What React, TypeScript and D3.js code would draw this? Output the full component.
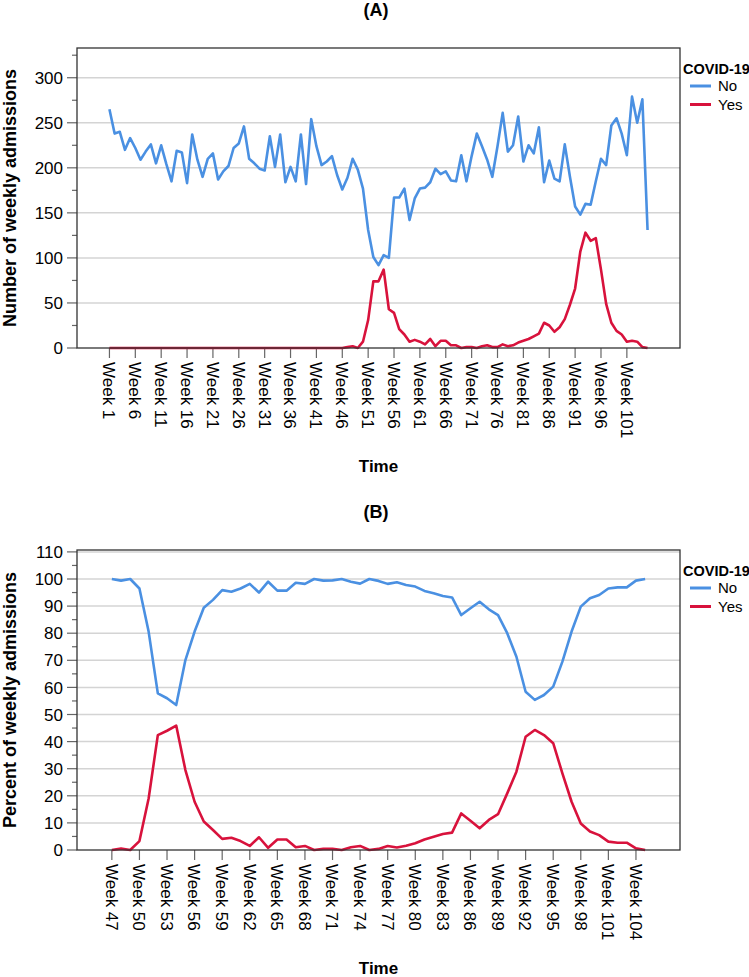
import React, { useEffect, useRef } from 'react';
import * as d3 from 'd3';

// Panel A: weekly admission counts, weeks 1-105
const weeksA = d3.range(1, 106);
const noA = [
  265, 238, 240, 220, 233, 222, 209, 218, 226, 205,
  225, 204, 185, 219, 217, 183, 237, 209, 190, 210,
  216, 187, 196, 202, 222, 227, 246, 210, 205, 199,
  197, 235, 201, 237, 184, 201, 185, 237, 182, 254,
  224, 203, 207, 213, 192, 176, 189, 210, 198, 177,
  131, 101, 92, 103, 100, 167, 167, 177, 142, 166,
  177, 178, 184, 199, 193, 196, 186, 185, 214, 185,
  213, 238, 224, 209, 190, 224, 261, 218, 225, 257,
  207, 225, 216, 245, 184, 208, 188, 185, 226, 190,
  157, 148, 160, 159, 185, 210, 203, 247, 255, 238,
  214, 279, 250, 276, 131,
];
const yesA = [
  0, 0, 0, 0, 0, 0, 0, 0, 0, 0,
  0, 0, 0, 0, 0, 0, 0, 0, 0, 0,
  0, 0, 0, 0, 0, 0, 0, 0, 0, 0,
  0, 0, 0, 0, 0, 0, 0, 0, 0, 0,
  0, 0, 0, 0, 0, 0, 1, 2, 0, 7,
  31, 74, 74, 87, 43, 39, 21, 15, 7, 9,
  7, 4, 10, 2, 8, 8, 3, 3, 0, 1,
  1, 0, 2, 3, 1, 1, 4, 2, 3, 6,
  8, 10, 13, 16, 28, 25, 18, 23, 32, 48,
  66, 107, 128, 119, 122, 87, 49, 28, 19, 15,
  7, 8, 7, 1, 0,
];

// Panel B: percent of weekly admissions, weeks 47-105
const weeksB = d3.range(47, 106);
const noB = [
  100, 99.4, 100, 96.5, 80.6, 57.8, 56, 53.5, 70.1, 80.6,
  89.4, 92.3, 95.9, 95.3, 96.5, 98.2, 95, 99, 95.7, 95.7,
  98.6, 98.2, 100, 99.4, 99.5, 100, 99, 98.3, 100, 99.3,
  98.2, 98.8, 97.8, 97.2, 95.6, 94.7, 93.7, 93.2, 86.7, 89.2,
  91.6, 88.8, 86.7, 80, 71.3, 58.4, 55.4, 57.2, 60.3, 69.5,
  80.6, 89.8, 92.9, 94.1, 96.5, 96.9, 96.9, 99.4, 100,
];
const yesB = [
  0, 0.5, 0, 3.3, 19, 42.4, 44, 45.9, 29.5, 17.8,
  10.5, 7.4, 4.1, 4.5, 3.3, 1.5, 4.7, 0.8, 3.9, 3.9,
  1, 1.5, 0, 0.4, 0.4, 0, 1, 1.5, 0, 0.4,
  1.5, 0.9, 1.6, 2.5, 3.9, 4.9, 5.9, 6.4, 13.5, 10.8,
  8, 11.1, 13.2, 20.9, 28.9, 41.8, 44.3, 42.4, 39.4, 28.3,
  17.8, 9.8, 6.8, 5.5, 3.1, 2.7, 2.7, 0.6, 0,
];

const legendTitle = 'COVID-19';
const seriesNames = ['No', 'Yes'];
const seriesColors = ['#4a90e2', '#d8123c'];

const FONT = '"Liberation Sans", Arial, Helvetica, sans-serif';

interface PanelConfig {
  title: string;
  top: number;
  weeks: number[];
  no: number[];
  yes: number[];
  yMax: number;
  yMajor: number;
  yMinor: number;
  xEvery: number;
  xPad: number;
  yLabel: string;
}

function drawPanel(svg: d3.Selection<SVGSVGElement, unknown, null, undefined>, c: PanelConfig) {
  const left = 77;
  const right = 680;
  const top = c.top;
  const bottom = c.top + 300;

  const g = svg.append('g');

  const x = d3.scalePoint<number>().domain(c.weeks).range([left, right]).padding(c.xPad);
  const y = d3.scaleLinear().domain([0, c.yMax]).range([bottom, top]);

  // title
  g.append('text')
    .attr('x', 376)
    .attr('y', top - 32)
    .attr('text-anchor', 'middle')
    .attr('font-size', 18)
    .attr('font-weight', 'bold')
    .text(c.title);

  // gridlines
  const majors = d3.range(c.yMajor, c.yMax, c.yMajor);
  g.selectAll('.grid')
    .data(majors)
    .join('line')
    .attr('x1', left)
    .attr('x2', right)
    .attr('y1', d => y(d))
    .attr('y2', d => y(d))
    .attr('stroke', '#d4d4d4')
    .attr('stroke-width', 1.5);

  // y ticks
  const minors = d3.range(0, c.yMax, c.yMinor);
  g.selectAll('.ytick')
    .data(minors)
    .join('line')
    .attr('x1', d => (d % c.yMajor === 0 ? left - 10 : left - 5))
    .attr('x2', left)
    .attr('y1', d => y(d))
    .attr('y2', d => y(d))
    .attr('stroke', '#666')
    .attr('stroke-width', 1.2);

  g.selectAll('.ylab')
    .data(d3.range(0, c.yMax, c.yMajor))
    .join('text')
    .attr('x', left - 14)
    .attr('y', d => y(d))
    .attr('dy', '0.36em')
    .attr('text-anchor', 'end')
    .attr('font-size', 17)
    .text(d => d);

  // x ticks
  const xt = c.weeks.filter((w, i) => i % c.xEvery === 0);
  g.selectAll('.xtick')
    .data(xt)
    .join('line')
    .attr('x1', d => x(d)!)
    .attr('x2', d => x(d)!)
    .attr('y1', bottom)
    .attr('y2', bottom + 10)
    .attr('stroke', '#666')
    .attr('stroke-width', 1.2);

  g.selectAll('.xlab')
    .data(xt)
    .join('text')
    .attr('transform', d => `translate(${x(d)},${bottom + 14}) rotate(90)`)
    .attr('dy', '0.36em')
    .attr('font-size', 17)
    .text(d => `Week ${d}`);

  // lines
  const series = [c.no, c.yes];
  series.forEach((vals, si) => {
    const line = d3.line<number>()
      .x((_, i) => x(c.weeks[i])!)
      .y(d => y(d));
    g.append('path')
      .datum(vals)
      .attr('fill', 'none')
      .attr('stroke', seriesColors[si])
      .attr('stroke-width', 2.6)
      .attr('stroke-linejoin', 'round')
      .attr('d', line);
  });

  // frame
  g.append('rect')
    .attr('x', left)
    .attr('y', top)
    .attr('width', right - left)
    .attr('height', bottom - top)
    .attr('fill', 'none')
    .attr('stroke', '#333')
    .attr('stroke-width', 1.3);

  // axis titles
  g.append('text')
    .attr('transform', `translate(${16},${(top + bottom) / 2}) rotate(-90)`)
    .attr('text-anchor', 'middle')
    .attr('font-size', 18)
    .attr('font-weight', 'bold')
    .text(c.yLabel);

  g.append('text')
    .attr('x', (left + right) / 2)
    .attr('y', bottom + 124)
    .attr('text-anchor', 'middle')
    .attr('font-size', 17)
    .attr('font-weight', 'bold')
    .text('Time');

  // legend
  const lg = g.append('g').attr('transform', `translate(683,${top + 26})`);
  lg.append('text')
    .attr('x', 0)
    .attr('y', 0)
    .attr('font-size', 14.5)
    .attr('font-weight', 'bold')
    .text(legendTitle);
  seriesNames.forEach((name, i) => {
    const ly = 12 + i * 18.5;
    lg.append('line')
      .attr('x1', 7)
      .attr('x2', 28)
      .attr('y1', ly)
      .attr('y2', ly)
      .attr('stroke', seriesColors[i])
      .attr('stroke-width', 3);
    lg.append('text')
      .attr('x', 35)
      .attr('y', ly)
      .attr('dy', '0.36em')
      .attr('font-size', 15)
      .text(name);
  });
}

export default function App() {
  const svgRef = useRef<SVGSVGElement>(null);

  useEffect(() => {
    if (!svgRef.current) return;
    const svg = d3.select(svgRef.current);
    svg.selectAll('*').remove();

    drawPanel(svg, {
      title: '(A)', top: 48, weeks: weeksA, no: noA, yes: yesA,
      yMax: 333, yMajor: 50, yMinor: 25, xEvery: 5, xPad: 6.27,
      yLabel: 'Number of weekly admissions',
    });
    drawPanel(svg, {
      title: '(B)', top: 550, weeks: weeksB, no: noB, yes: yesB,
      yMax: 110.7, yMajor: 10, yMinor: 5, xEvery: 3, xPad: 3.79,
      yLabel: 'Percent of weekly admissions',
    });
  }, []);

  return (
    <svg
      ref={svgRef}
      width={749}
      height={977}
      style={{ position: 'absolute', left: 0, top: 0, background: '#fff', fontFamily: FONT }}
    />
  );
}
